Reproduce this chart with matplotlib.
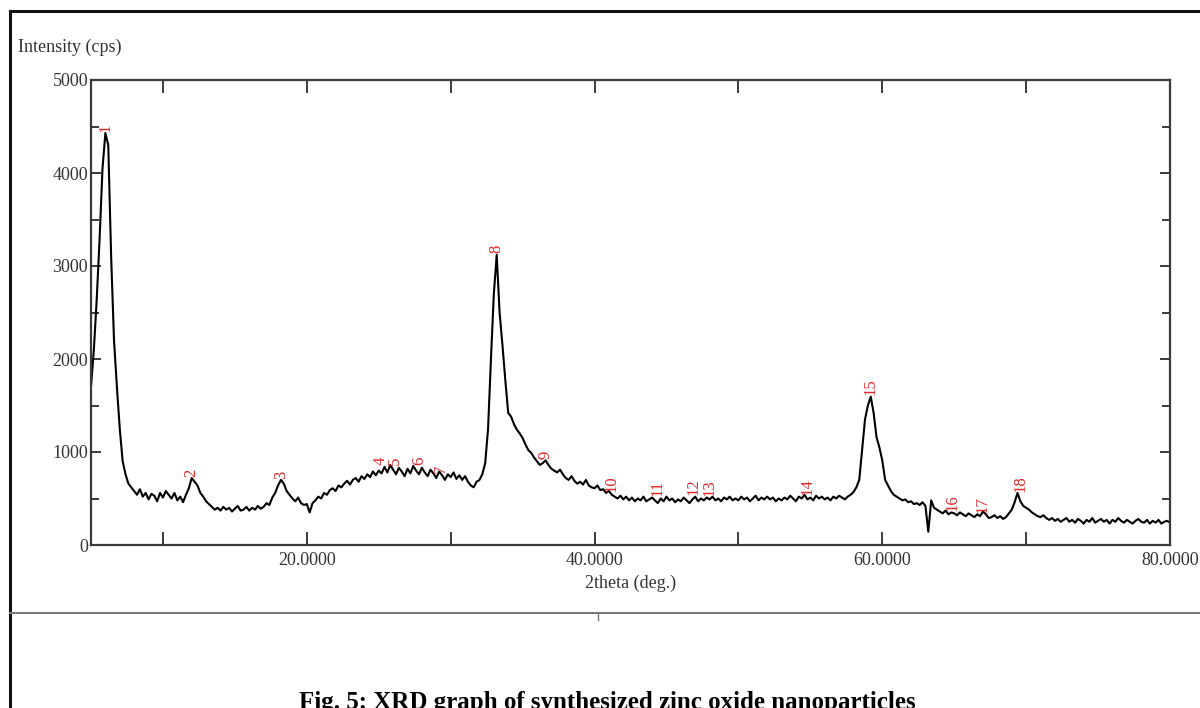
import numpy as np
import matplotlib
matplotlib.use("Agg")
import matplotlib.pyplot as plt
from matplotlib.lines import Line2D
from matplotlib.ticker import FuncFormatter, MultipleLocator

plt.rcParams['font.family'] = ['Liberation Serif', 'DejaVu Serif']

# ---- data ----
theta_start = 5.0
theta_step = 0.2
intensity = [
    1700, 2100, 2650, 3300, 4050,
    4430, 4300, 3100, 2200, 1700,
    1250, 900, 760, 660, 620,
    580, 540, 600, 520, 560,
    490, 550, 530, 470, 560,
    510, 580, 540, 500, 560,
    480, 520, 460, 540, 610,
    720, 680, 640, 560, 520,
    470, 440, 410, 380, 400,
    370, 410, 380, 400, 360,
    390, 420, 370, 380, 410,
    370, 400, 380, 420, 390,
    410, 450, 430, 510, 560,
    640, 700, 660, 580, 540,
    500, 470, 510, 450, 430,
    440, 350, 450, 480, 520,
    500, 560, 540, 590, 610,
    580, 640, 620, 660, 690,
    650, 700, 720, 680, 740,
    710, 760, 730, 790, 750,
    800, 770, 840, 780, 860,
    810, 760, 830, 790, 740,
    820, 770, 850, 800, 760,
    830, 780, 740, 810, 770,
    720, 790, 750, 700, 760,
    730, 780, 710, 750, 700,
    740, 680, 640, 620, 680,
    700, 760, 880, 1250, 2000,
    2700, 3120, 2500, 2150, 1770,
    1420, 1380, 1300, 1240, 1200,
    1150, 1080, 1020, 990, 940,
    900, 860, 880, 910, 860,
    820, 800, 780, 810, 760,
    720, 700, 740, 690, 660,
    680, 650, 700, 640, 620,
    610, 640, 590, 600, 560,
    580, 540, 520, 500, 530,
    490, 520, 480, 510, 470,
    500, 480, 520, 470, 490,
    510, 480, 450, 500, 470,
    520, 480, 500, 460, 490,
    470, 510, 480, 450, 490,
    520, 470, 500, 480, 510,
    490, 520, 480, 500, 470,
    510, 490, 520, 480, 500,
    480, 520, 490, 510, 470,
    500, 530, 480, 510, 490,
    520, 490, 510, 470, 500,
    480, 510, 490, 530, 500,
    470, 520, 500, 540, 490,
    510, 480, 530, 500, 520,
    490, 510, 480, 520, 500,
    530, 510, 490, 520, 540,
    570, 620, 700, 1020, 1350,
    1500, 1595, 1420, 1160, 1050,
    910, 700, 640, 580, 540,
    520, 500, 480, 490, 460,
    470, 440, 450, 430, 460,
    420, 143, 480, 400, 380,
    360, 340, 370, 330, 350,
    340, 320, 350, 330, 310,
    340, 320, 300, 330, 310,
    360, 330, 290, 300, 320,
    290, 310, 280, 300, 340,
    380, 460, 560, 470, 420,
    400, 380, 350, 330, 310,
    300, 320, 290, 270, 290,
    260, 280, 250, 270, 290,
    250, 270, 240, 280, 260,
    230, 270, 250, 290, 240,
    260, 280, 250, 270, 230,
    270, 250, 290, 260, 240,
    270, 250, 230, 260, 280,
    250, 240, 270, 230, 260,
    240, 270, 230, 250, 260,
    240,
]
two_theta = theta_start + theta_step * np.arange(len(intensity))

peak_ids = ["1", "2", "3", "4", "5", "6", "7", "8", "9", "10", "11", "12",
            "13", "14", "15", "16", "17", "18"]
peak_pos = [6.0, 12.0, 18.2, 25.1, 26.1, 27.8, 29.3, 33.2, 36.6, 41.2, 44.4,
            46.9, 48.0, 54.8, 59.2, 64.9, 67.0, 69.6]
peak_int = [4430, 720, 700, 840, 850, 850, 760, 3120, 910, 560, 510, 520,
            510, 520, 1595, 350, 330, 560]

x_labels_at = [20, 40, 60, 80]

# ---- figure ----
W, H = 1200, 708
fig = plt.figure(figsize=(W / 100, H / 100), dpi=100)
ax = fig.add_axes([91 / W, (H - 545) / H, (1170 - 91) / W, (545 - 80) / H])

ax.plot(two_theta, intensity, color='black', lw=1.5)

red = '#e02828'
for pid, px, py in zip(peak_ids, peak_pos, peak_int):
    ax.annotate(pid, xy=(px, py), xytext=(0, 1), textcoords='offset points',
                rotation=90, ha='center', va='bottom', color=red, fontsize=12)

ax.set_xlim(5, 80)
ax.set_ylim(0, 5000)

spine_c = '#3a3a3a'
for s in ax.spines.values():
    s.set_color(spine_c)
    s.set_linewidth(1.6)

ax.set_xticks(np.arange(10, 81, 10))
ax.xaxis.set_major_formatter(FuncFormatter(
    lambda v, p: f"{v:.4f}" if round(v) in x_labels_at else ""))
ax.set_yticks(np.arange(0, 5001, 1000))
ax.yaxis.set_minor_locator(MultipleLocator(500))
ax.tick_params(axis='x', which='major', direction='in', top=True, bottom=True,
               length=9.5, width=1.4, color=spine_c, labelsize=13,
               labelcolor='#333333', pad=5)
ax.tick_params(axis='y', which='major', direction='in', left=True, right=True,
               length=7, width=1.4, color=spine_c, labelsize=13,
               labelcolor='#333333', pad=2)
ax.tick_params(axis='y', which='minor', direction='in', left=True, right=True,
               length=6, width=1.4, color=spine_c)

ax.set_xlabel("2theta (deg.)", fontsize=13, color='#333333', labelpad=4)
fig.text(18 / W, 1 - 47 / H, "Intensity (cps)", fontsize=13, color='#333333',
         ha='left', va='center')

# page frame lines
def fline(x0, y0, x1, y1, **kw):
    fig.add_artist(Line2D([x0 / W, x1 / W], [1 - y0 / H, 1 - y1 / H],
                          transform=fig.transFigure, **kw))

fline(10, 11, 1200, 11, color='#111111', lw=2.2)
fline(10, 11, 10, 708, color='#111111', lw=2.2)
fline(10, 613, 1200, 613, color='#777777', lw=1.5)
fline(598, 613, 598, 620, color='#777777', lw=1.0)

fig.text(607 / W, 1 - 709 / H,
         "Fig. 5: XRD graph of synthesized zinc oxide nanoparticles",
         fontsize=18, fontweight='bold', ha='center', va='baseline',
         color='black')

fig.savefig("out.png", dpi=100)
